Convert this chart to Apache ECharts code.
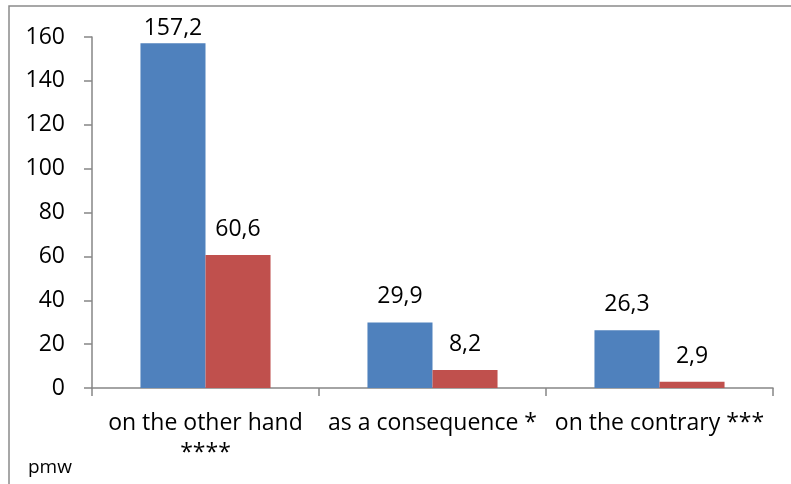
<!DOCTYPE html>
<html>
<head>
<meta charset="utf-8">
<script src="https://cdn.jsdelivr.net/npm/echarts@6/dist/echarts.min.js"></script>
<style>
  html, body { margin: 0; padding: 0; background: #ffffff; }
  #chart { width: 791px; height: 484px; }
</style>
</head>
<body>
<div id="chart"></div>
<script>
// Connectives and their frequencies (per million words) in two corpora
const categories = ['on the other hand\n****', 'as a consequence *', 'on the contrary ***'];
const seriesA = [157.2, 29.9, 26.3];
const seriesB = [60.6, 8.2, 2.9];
const yTicks = { min: 0, max: 160, interval: 20 };

const FONT = '"Open Sans", "Liberation Sans", sans-serif';
const AXIS_GREY = '#868686';

const fmt = (v) => v.toFixed(1).replace('.', ',');

// Labels sit a fixed distance above each bar, except when that would push
// them past the top of the chart area, where they hug the bar instead.
function withLabels(values) {
  return values.map((v) => (v > yTicks.max * 0.9
    ? { value: v, label: { distance: 3 } }
    : v));
}

const labelStyle = {
  show: true,
  position: 'top',
  distance: 14,
  color: '#000000',
  fontFamily: FONT,
  fontSize: 23,
  formatter: (p) => fmt(p.value)
};

const chart = echarts.init(document.getElementById('chart'), null, { renderer: 'canvas' });

chart.setOption({
  backgroundColor: '#ffffff',
  animation: false,
  grid: {
    left: 92,
    right: 18,
    top: 37,
    bottom: 96,
    containLabel: false,
    outerBoundsMode: 'none'
  },
  xAxis: {
    type: 'category',
    data: categories,
    boundaryGap: true,
    axisLine: { show: true, lineStyle: { color: AXIS_GREY, width: 1.5 } },
    axisTick: { show: true, inside: false, length: 8, alignWithLabel: false,
                lineStyle: { color: AXIS_GREY, width: 1.5 } },
    axisLabel: {
      interval: 0,
      margin: 20,
      color: '#000000',
      fontFamily: FONT,
      fontSize: 23,
      lineHeight: 30
    },
    splitLine: { show: false }
  },
  yAxis: {
    type: 'value',
    min: yTicks.min,
    max: yTicks.max,
    interval: yTicks.interval,
    axisLine: { show: true, lineStyle: { color: AXIS_GREY, width: 1.5 } },
    axisTick: { show: true, inside: false, length: 8,
                lineStyle: { color: AXIS_GREY, width: 1.5 } },
    axisLabel: {
      margin: 27,
      color: '#000000',
      fontFamily: FONT,
      fontSize: 23
    },
    splitLine: { show: false }
  },
  series: [
    {
      type: 'bar',
      data: withLabels(seriesA),
      barGap: '0%',
      barCategoryGap: '42.7%',
      itemStyle: { color: '#4F81BD' },
      label: labelStyle
    },
    {
      type: 'bar',
      data: withLabels(seriesB),
      barGap: '0%',
      barCategoryGap: '42.7%',
      itemStyle: { color: '#C0504D' },
      label: labelStyle
    }
  ],
  graphic: [
    {
      type: 'rect',
      silent: true,
      z: -1,
      shape: { x: 9, y: 6, width: 820, height: 520 },
      style: { fill: null, stroke: '#8a8a8a', lineWidth: 1.5 }
    },
    {
      type: 'text',
      left: 28,
      top: 458,
      style: {
        text: 'pmw',
        fill: '#000000',
        font: '19px ' + FONT
      }
    }
  ]
});
</script>
</body>
</html>
